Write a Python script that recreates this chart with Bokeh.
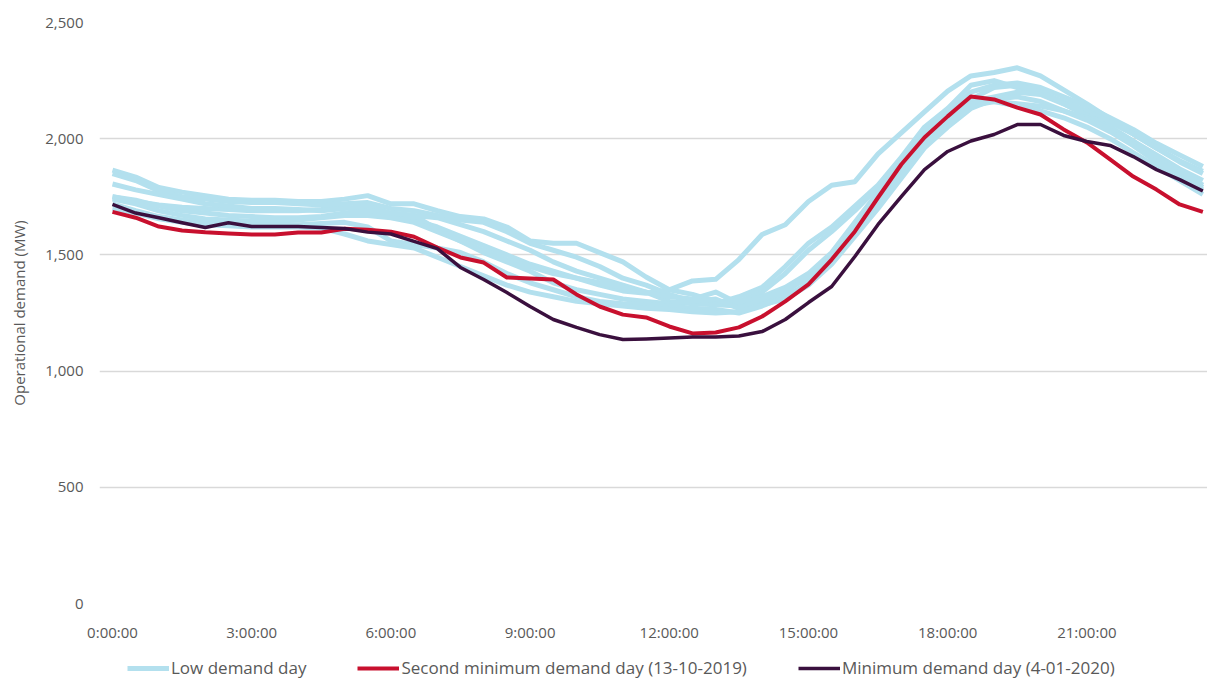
from bokeh.plotting import figure
from bokeh.layouts import column
from bokeh.models import Range1d, FixedTicker, NumeralTickFormatter, Legend, LegendItem
from bokeh.embed import file_html
from bokeh.resources import INLINE

# Half-hourly time of day (hours)
hours = [h * 0.5 for h in range(48)]
tick_hours = [0, 3, 6, 9, 12, 15, 18, 21]
tick_labels = ["0:00:00", "3:00:00", "6:00:00", "9:00:00", "12:00:00", "15:00:00", "18:00:00", "21:00:00"]

# Low demand days (MW)
low_day_1 = [1750, 1730, 1715, 1705, 1700, 1695, 1690, 1690, 1690, 1695, 1705, 1690,
             1670, 1650, 1620, 1580, 1540, 1500, 1460, 1430, 1400, 1370, 1345, 1335,
             1350, 1388, 1395, 1480, 1588, 1630, 1730, 1800, 1815, 1935, 2025, 2115,
             2205, 2270, 2285, 2305, 2270, 2210, 2150, 2085, 2020, 1960, 1905, 1860]
low_day_2 = [1865, 1835, 1790, 1770, 1755, 1740, 1735, 1735, 1730, 1730, 1740, 1755,
             1720, 1720, 1690, 1665, 1655, 1620, 1560, 1550, 1550, 1510, 1470, 1405,
             1350, 1330, 1300, 1300, 1340, 1420, 1520, 1600, 1690, 1790, 1900, 2030,
             2110, 2200, 2230, 2240, 2220, 2180, 2140, 2090, 2040, 1980, 1930, 1880]
low_day_3 = [1850, 1820, 1775, 1750, 1740, 1730, 1725, 1725, 1720, 1715, 1720, 1725,
             1700, 1690, 1670, 1650, 1640, 1600, 1550, 1520, 1490, 1450, 1400, 1370,
             1330, 1300, 1290, 1320, 1360, 1450, 1550, 1620, 1710, 1800, 1920, 2050,
             2130, 2230, 2250, 2220, 2200, 2160, 2120, 2070, 2020, 1960, 1900, 1850]
low_day_4 = [1805, 1780, 1760, 1740, 1720, 1710, 1700, 1700, 1695, 1690, 1700, 1710,
             1680, 1670, 1660, 1630, 1600, 1560, 1520, 1470, 1430, 1400, 1370, 1340,
             1300, 1290, 1285, 1280, 1300, 1340, 1410, 1500, 1620, 1760, 1890, 2000,
             2090, 2170, 2220, 2230, 2200, 2150, 2100, 2050, 1990, 1930, 1870, 1820]
low_day_5 = [1750, 1735, 1710, 1690, 1680, 1670, 1665, 1660, 1660, 1665, 1680, 1690,
             1680, 1670, 1610, 1560, 1520, 1480, 1450, 1420, 1400, 1380, 1360, 1340,
             1320, 1310, 1340, 1290, 1320, 1360, 1420, 1510, 1640, 1770, 1900, 2010,
             2100, 2160, 2180, 2200, 2190, 2150, 2100, 2050, 1990, 1920, 1860, 1800]
low_day_6 = [1740, 1720, 1690, 1670, 1655, 1650, 1645, 1645, 1650, 1660, 1670, 1670,
             1660, 1640, 1600, 1560, 1510, 1470, 1430, 1380, 1350, 1330, 1310, 1300,
             1290, 1300, 1310, 1270, 1310, 1350, 1400, 1490, 1610, 1740, 1870, 1980,
             2070, 2140, 2160, 2150, 2140, 2120, 2090, 2040, 1980, 1920, 1850, 1790]
low_day_7 = [1720, 1690, 1665, 1650, 1640, 1635, 1630, 1630, 1630, 1635, 1640, 1620,
             1560, 1545, 1530, 1510, 1470, 1420, 1380, 1350, 1320, 1300, 1290, 1285,
             1280, 1270, 1265, 1250, 1280, 1320, 1380, 1470, 1590, 1720, 1850, 1970,
             2060, 2150, 2160, 2140, 2120, 2090, 2050, 2000, 1940, 1880, 1820, 1760]
low_day_8 = [1700, 1680, 1655, 1640, 1630, 1625, 1620, 1620, 1620, 1615, 1590, 1560,
             1545, 1530, 1490, 1450, 1410, 1370, 1340, 1320, 1300, 1290, 1280, 1270,
             1265, 1255, 1250, 1255, 1285, 1310, 1370, 1460, 1580, 1700, 1830, 1960,
             2050, 2130, 2170, 2180, 2160, 2120, 2080, 2030, 1970, 1900, 1840, 1780]
low_days = [low_day_1, low_day_2, low_day_3, low_day_4, low_day_5, low_day_6, low_day_7, low_day_8]

# Second minimum demand day (13-10-2019)
second_min = [1685, 1660, 1622, 1605, 1597, 1592, 1588, 1588, 1596, 1596, 1612, 1608,
              1600, 1578, 1532, 1489, 1467, 1403, 1398, 1394, 1330, 1278, 1243, 1231,
              1192, 1162, 1166, 1188, 1235, 1300, 1373, 1480, 1601, 1747, 1889, 2005,
              2096, 2182, 2169, 2134, 2104, 2040, 1984, 1911, 1837, 1781, 1717, 1685]
# Minimum demand day (4-01-2020)
minimum = [1717, 1680, 1660, 1638, 1618, 1638, 1622, 1622, 1622, 1618, 1614, 1598,
           1590, 1558, 1527, 1446, 1394, 1338, 1278, 1222, 1188, 1157, 1136, 1138,
           1142, 1147, 1147, 1151, 1170, 1222, 1295, 1364, 1493, 1631, 1751, 1867,
           1945, 1990, 2018, 2061, 2061, 2014, 1988, 1971, 1923, 1867, 1824, 1775]

series_labels = ["Low demand day", "Second minimum demand day (13-10-2019)", "Minimum demand day (4-01-2020)"]

LIGHT_BLUE = "#b3e0ee"
RED = "#c8102e"
DARK = "#3a103e"
TEXT = "#595959"
FONT = "Open Sans"

p = figure(frame_width=1108, frame_height=581, output_backend="svg", toolbar_location=None,
           min_border_left=99, min_border_right=0, min_border_top=22, min_border_bottom=44,
           x_range=Range1d(-0.28, 23.6), y_range=Range1d(0, 2500))
p.outline_line_color = None
p.background_fill_color = "white"
p.border_fill_color = "white"

for d in low_days:
    p.line(hours, d, line_color=LIGHT_BLUE, line_width=5, line_join="round")
p.line(hours, second_min, line_color=RED, line_width=4, line_join="round")
p.line(hours, minimum, line_color=DARK, line_width=3.5, line_join="round")

# axes
p.xaxis.ticker = FixedTicker(ticks=tick_hours)
p.xaxis.major_label_overrides = {h: l for h, l in zip(tick_hours, tick_labels)}
p.yaxis.ticker = FixedTicker(ticks=[0, 500, 1000, 1500, 2000, 2500])
p.yaxis.formatter = NumeralTickFormatter(format="0,0")
for ax in (p.xaxis[0], p.yaxis[0]):
    ax.axis_line_color = None
    ax.major_tick_line_color = None
    ax.minor_tick_line_color = None
    ax.major_tick_out = 0
    ax.major_label_text_font = FONT
    ax.major_label_text_font_size = "15px"
    ax.major_label_text_color = TEXT
p.xaxis.major_label_standoff = 18
p.yaxis.major_label_standoff = 16
p.yaxis.axis_label = "Operational demand (MW)"
p.yaxis.axis_label_text_font = FONT
p.yaxis.axis_label_text_font_size = "15px"
p.yaxis.axis_label_text_font_style = "normal"
p.yaxis.axis_label_text_color = TEXT
p.yaxis.axis_label_standoff = 13

p.xgrid.grid_line_color = None
p.ygrid.grid_line_color = "#d9d9d9"
p.ygrid.grid_line_width = 1.5

# Legend strip below the chart (its lines carry the same series, but lie outside its view)
lg = figure(width=1207, height=32, output_backend="svg", toolbar_location=None,
            min_border=0, x_axis_location=None, y_axis_location=None,
            x_range=Range1d(-1000, -999), y_range=Range1d(-1000, -999))
lg.outline_line_color = None
lg.xgrid.grid_line_color = None
lg.ygrid.grid_line_color = None
items = []
for lab, ys, col, w in zip(series_labels, [low_day_1, second_min, minimum],
                           [LIGHT_BLUE, RED, DARK], [5, 4, 3.5]):
    r = lg.line(hours, ys, line_color=col, line_width=w)
    items.append(LegendItem(label=lab, renderers=[r]))
legend = Legend(items=items, orientation="horizontal", location=(28, 0))
legend.label_text_font = FONT
legend.label_text_font_size = "17px"
legend.label_text_color = TEXT
legend.border_line_color = None
legend.background_fill_alpha = 0
legend.glyph_width = 42
legend.glyph_height = 20
legend.label_height = 20
legend.label_standoff = 2
legend.spacing = 51
legend.padding = 0
legend.margin = 0
lg.add_layout(legend, "center")

layout = column(p, lg, spacing=0)
open("out.html", "w").write(file_html(layout, INLINE))
